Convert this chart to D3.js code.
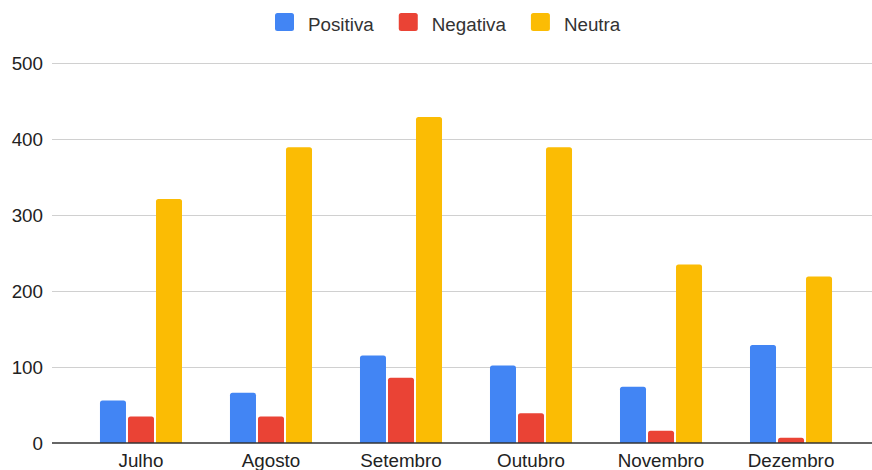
<!DOCTYPE html>
<html><head><meta charset="utf-8">
<script src="https://cdn.jsdelivr.net/npm/d3@7/dist/d3.min.js"></script>
<style>body{margin:0;background:#fff}svg{display:block}</style>
</head><body><svg id="c" width="872" height="470"></svg>
<script>
const categories = ["Julho","Agosto","Setembro","Outubro","Novembro","Dezembro"];
const seriesNames = ["Positiva","Negativa","Neutra"];
const positiva = [56,66,115,102,74,129];
const negativa = [35,35,86,39,16,7];
const neutra = [321,389,429,389,235,219];
const yTicks = [0,100,200,300,400,500];
const colors = ["#4285F4","#EA4335","#FBBC04"];

const values = [positiva, negativa, neutra];
const svg = d3.select("#c");
const W = 872, H = 470;
const font = "'Liberation Sans', Arial, sans-serif";
const fs = 18.8;

const y = d3.scaleLinear().domain([0,500]).range([443,63]);
const x = d3.scaleBand().domain(categories).range([52,880]).paddingInner(0.369).paddingOuter(0.369);
const xs = d3.scaleBand().domain(seriesNames).range([0,x.bandwidth()]).paddingInner(0.0714).paddingOuter(0);

// gridlines
svg.append("g").selectAll("line").data(yTicks.filter(d=>d>0)).join("line")
  .attr("x1",52).attr("x2",W).attr("y1",d=>Math.round(y(d))+0.5).attr("y2",d=>Math.round(y(d))+0.5)
  .attr("stroke","#d0d0d0").attr("stroke-width",1);

// y labels
svg.append("g").selectAll("text").data(yTicks).join("text")
  .attr("x",43).attr("y",d=>y(d)+6.5).attr("text-anchor","end")
  .attr("font-family",font).attr("font-size",fs).attr("fill","#222").text(d=>d);

// bars
function barPath(x0,w,yt,yb,r){
  const h = yb-yt; r = Math.min(r,h,w/2);
  return `M${x0},${yb}V${yt+r}Q${x0},${yt} ${x0+r},${yt}H${x0+w-r}Q${x0+w},${yt} ${x0+w},${yt+r}V${yb}Z`;
}
const g = svg.append("g");
categories.forEach((c,i)=>{
  seriesNames.forEach((s,j)=>{
    g.append("path")
      .attr("d", barPath(x(c)+xs(s), xs.bandwidth(), y(values[j][i]), y(0), 2.5))
      .attr("fill", colors[j]);
  });
});

// baseline
svg.append("line").attr("x1",52).attr("x2",W).attr("y1",443).attr("y2",443)
  .attr("stroke","#333").attr("stroke-width",1.3);

// x labels
svg.append("g").selectAll("text").data(categories).join("text")
  .attr("x",d=>x(d)+x.bandwidth()/2).attr("y",467).attr("text-anchor","middle")
  .attr("font-family",font).attr("font-size",fs).attr("fill","#222").text(d=>d);

// legend
const lg = svg.append("g");
let lx = 275;
seriesNames.forEach((s,j)=>{
  lg.append("rect").attr("x",lx).attr("y",13).attr("width",19).attr("height",18).attr("rx",2.5)
    .attr("fill",colors[j]);
  const t = lg.append("text").attr("x",lx+33).attr("y",30.5)
    .attr("font-family",font).attr("font-size",fs).attr("fill","#333").text(s);
  lx = lx + 33 + t.node().getComputedTextLength() + 25;
});
</script></body></html>
